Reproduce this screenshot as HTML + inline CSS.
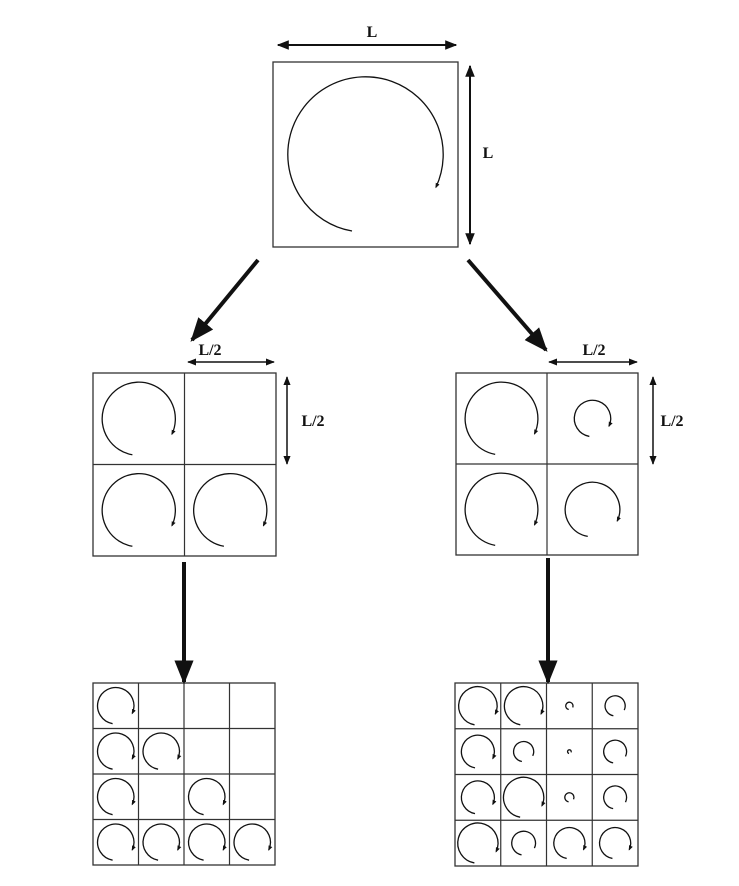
<!DOCTYPE html>
<html><head><meta charset="utf-8"><style>
body{margin:0;background:#fff}
svg{display:block}
text{font-family:"Liberation Serif",serif;font-weight:bold;font-size:16px;fill:#111}
</style></head><body>
<svg id="s" width="739" height="886" viewBox="0 0 739 886">
<defs>
<marker id="ah" viewBox="0 0 10 10" refX="9" refY="5" markerWidth="6" markerHeight="6" orient="auto-start-reverse"><path d="M0,1 L10,5 L0,9 z" fill="#111"/></marker>
<marker id="sa" viewBox="0 0 10 10" refX="8" refY="5" markerWidth="4" markerHeight="4" orient="auto"><path d="M0,1 L10,5 L0,9 z" fill="#111"/></marker>
</defs>
<g id="g"></g>
</svg>
<script>
// grid data: relative arc radius per cell (0 = empty)
const topLevel=[[0.42]];
const midLeft=[[0.4,0],[0.4,0.4]];
const midRight=[[0.4,0.2],[0.4,0.3]];
const botLeft=[[0.4,0,0,0],[0.4,0.4,0,0],[0.4,0,0.4,0],[0.4,0.4,0.4,0.4]];
const botRight=[[0.42,0.42,0.08,0.22],[0.36,0.22,0.04,0.25],[0.36,0.44,0.1,0.25],[0.44,0.26,0.34,0.34]];
const NS='http://www.w3.org/2000/svg';
const g=document.getElementById('g');
function el(t,a,name){const e=document.createElementNS(NS,t);for(const k in a)e.setAttribute(k,a[k]);


g.appendChild(e);return e;}
function arc(cx,cy,r,name){
  const a0=100*Math.PI/180,a1=385*Math.PI/180;
  const x0=cx+r*Math.cos(a0),y0=cy+r*Math.sin(a0),x1=cx+r*Math.cos(a1),y1=cy+r*Math.sin(a1);
  const a={d:`M${x0},${y0} A${r},${r} 0 1 1 ${x1},${y1}`,fill:'none',stroke:'#111','stroke-width':1.3};
  if(r>14)a['marker-end']='url(#sa)';
  el('path',a,name);
}
function grid(x,y,size,data,name){
  const n=data.length,c=size/n;
  el('rect',{x:x,y:y,width:size,height:size,fill:'none',stroke:'#333','stroke-width':1.3},name+'-frame');
  for(let i=1;i<n;i++){
    el('line',{x1:x+i*c,y1:y,x2:x+i*c,y2:y+size,stroke:'#333','stroke-width':1.2},name+'-vline');
    el('line',{x1:x,y1:y+i*c,x2:x+size,y2:y+i*c,stroke:'#333','stroke-width':1.2},name+'-hline');
  }
  data.forEach((row,r)=>row.forEach((v,k)=>{if(v>0)arc(x+(k+0.5)*c,y+(r+0.5)*c,v*c,name+'-vortex');}));
}
grid(273,62,185,topLevel,'top-box');
grid(93,373,183,midLeft,'mid-left-grid');
grid(456,373,182,midRight,'mid-right-grid');
grid(93,683,182,botLeft,'bottom-left-grid');
grid(455,683,183,botRight,'bottom-right-grid');
function arrow(x1,y1,x2,y2,w,both,name){
  const m={x1,y1,x2,y2,stroke:'#111','stroke-width':w,'marker-end':'url(#ah)'};
  if(both)m['marker-start']='url(#ah)';
  el('line',m,name);
}
arrow(258,260,192,340,4,false,'arrow-to-left');
arrow(468,260,546,350,4,false,'arrow-to-right');
arrow(184,562,184,682,4,false,'arrow-down-left');
arrow(548,558,548,682,4,false,'arrow-down-right');
arrow(278,45,456,45,2,true,'dim-L-horizontal');
arrow(470,66,470,244,2,true,'dim-L-vertical');
arrow(188,362,274,362,1.5,true,'dim-L2-left-horizontal');
arrow(287,377,287,464,1.5,true,'dim-L2-left-vertical');
arrow(549,362,637,362,1.5,true,'dim-L2-right-horizontal');
arrow(653,377,653,464,1.5,true,'dim-L2-right-vertical');
function txt(x,y,s,name){const t=el('text',{x:x,y:y,'text-anchor':'middle'},name);t.textContent=s;}
txt(372,37,'L','label-L-top');
txt(488,158,'L','label-L-side');
txt(210,355,'L/2','label-L2-left-top');
txt(313,426,'L/2','label-L2-left-side');
txt(594,355,'L/2','label-L2-right-top');
txt(672,426,'L/2','label-L2-right-side');
</script>
</body></html>
